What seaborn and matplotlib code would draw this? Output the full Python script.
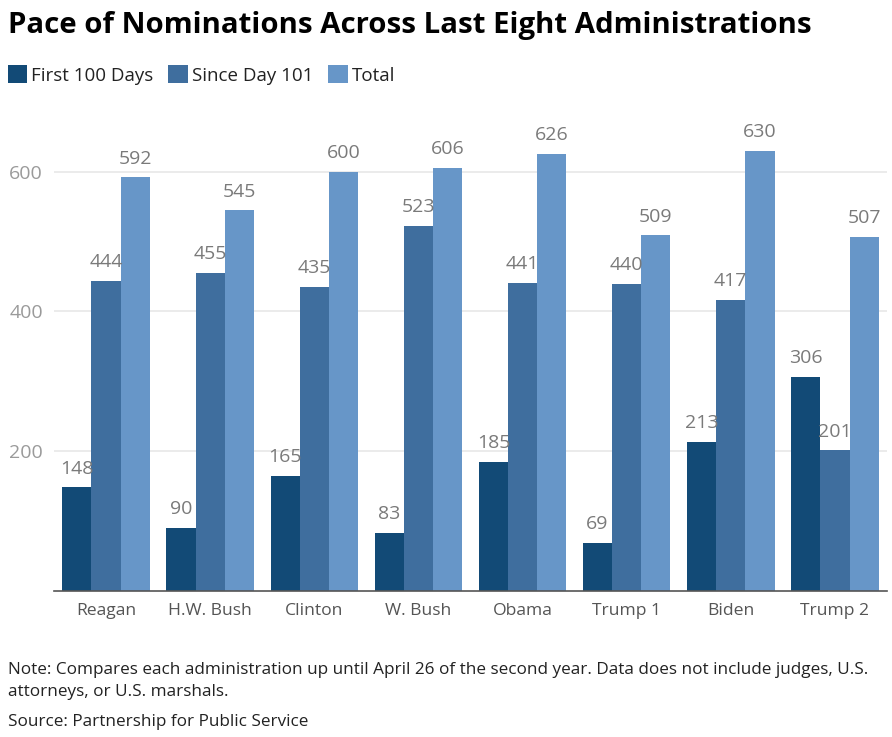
import matplotlib
matplotlib.use("Agg")
import matplotlib.pyplot as plt
import seaborn as sns
import pandas as pd
from matplotlib.patches import Patch

administrations = ["Reagan", "H.W. Bush", "Clinton", "W. Bush", "Obama", "Trump 1", "Biden", "Trump 2"]
first_100_days = [148, 90, 165, 83, 185, 69, 213, 306]
since_day_101 = [444, 455, 435, 523, 441, 440, 417, 201]
total = [592, 545, 600, 606, 626, 509, 630, 507]
series_names = ["First 100 Days", "Since Day 101", "Total"]
colors = ["#124A76", "#3F6E9E", "#6796C8"]
y_ticks = [200, 400, 600]

rows = []
for name, vals in zip(series_names, [first_100_days, since_day_101, total]):
    for adm, v in zip(administrations, vals):
        rows.append({"Administration": adm, "Series": name, "Value": v})
df = pd.DataFrame(rows)

sns.set_theme(style="white")
plt.rcParams['font.family'] = ['Open Sans', 'DejaVu Sans']

fig = plt.figure(figsize=(8.92, 7.37), dpi=100)
ax = fig.add_axes([54/892, 1-590.7/737, (887-54)/892, (590.7-130)/737])

sns.barplot(data=df, x="Administration", y="Value", hue="Series",
            order=administrations, hue_order=series_names,
            palette=colors, width=0.84, linewidth=0, saturation=1,
            ax=ax, legend=False)

for cont in ax.containers:
    ax.bar_label(cont, padding=7, fontsize=14, color="#7a7a7a")

ax.set_xlim(-0.5, 7.5)
ax.set_ylim(0, 660)
ax.set_yticks(y_ticks)
ax.yaxis.grid(True, color="#e8e8e8", linewidth=1.2)
ax.set_axisbelow(True)
for s in ["top", "right", "left"]:
    ax.spines[s].set_visible(False)
ax.spines["bottom"].set_color("#555555")
ax.spines["bottom"].set_linewidth(1.2)
ax.tick_params(axis="y", length=0, pad=8, labelsize=14, labelcolor="#9a9a9a")
ax.tick_params(axis="x", length=0, pad=9, labelsize=12.6, labelcolor="#555555")
ax.set_xlabel("")
ax.set_ylabel("")

fig.text(8/892, 1-25/737, "Pace of Nominations Across Last Eight Administrations",
         fontsize=21.2, fontweight="bold", color="#000000", va="center", ha="left")

handles = [Patch(facecolor=c, edgecolor="none") for c in colors]
fig.legend(handles, series_names, loc="center left", bbox_to_anchor=(2/892, 1-75/737),
           ncol=3, frameon=False, fontsize=13.5, handlelength=1.05, handleheight=1.05,
           handletextpad=0.2, columnspacing=0.8, borderaxespad=0, borderpad=0.3,
           labelcolor="#222222")

note_size = 12.3
fig.text(8/892, 1-670/737, "Note: Compares each administration up until April 26 of the second year. Data does not include judges, U.S.",
         fontsize=note_size, color="#222222", va="center", ha="left")
fig.text(8/892, 1-692/737, "attorneys, or U.S. marshals.",
         fontsize=note_size, color="#222222", va="center", ha="left")
fig.text(8/892, 1-722/737, "Source: Partnership for Public Service",
         fontsize=note_size, color="#222222", va="center", ha="left")

fig.savefig("out.png", dpi=100)
